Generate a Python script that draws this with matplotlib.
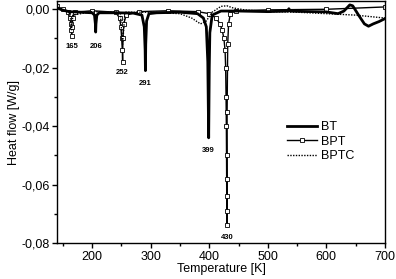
import matplotlib
matplotlib.use("Agg")
import matplotlib.pyplot as plt
from matplotlib.ticker import FuncFormatter, MultipleLocator

plt.rcParams['font.family'] = ['Liberation Sans', 'DejaVu Sans']

# BT (solid thick)
bt_T = [140, 150, 160, 180, 200, 204, 205.5, 206, 206.5, 208, 212, 240, 270, 285, 289, 290.5,
        291, 291.5, 293, 297, 310, 350, 380, 390, 395, 397.5, 399, 400, 401, 405, 420, 450,
        500, 534, 536, 538, 550, 600, 620, 630, 640, 645, 655, 665, 672, 680, 690, 700]
bt_Q = [0.0005, -0.0003, -0.0008, -0.001, -0.0012, -0.002, -0.005, -0.0078, -0.005, -0.002,
        -0.0012, -0.0012, -0.0013, -0.002, -0.006, -0.014, -0.021, -0.012, -0.004, -0.0015,
        -0.0012, -0.001, -0.0015, -0.003, -0.006, -0.018, -0.044, -0.02, -0.008, -0.002,
        -0.0006, -0.0006, -0.0008, -0.0006, 0.0002, -0.0006, -0.0007, -0.0009, -0.0015,
        -0.0006, 0.0015, 0.0012, -0.002, -0.005, -0.0058, -0.005, -0.0042, -0.0032]

# BPT (solid with open squares)
bpt_T = [140, 150, 158, 162, 163.5, 164.5, 165, 165.5, 167, 170, 200, 240, 247, 249, 250.5,
         251.5, 252, 252.5, 254, 258, 280, 330, 380, 400, 412, 418, 422, 425, 427, 428,
         428.7, 429.2, 429.5, 429.7, 429.8, 429.9, 430, 430.5, 431.5, 433, 436, 445, 500,
         600, 700]
bpt_Q = [0.001, 0.0, -0.001, -0.003, -0.005, -0.007, -0.009, -0.006, -0.003, -0.001, -0.0005,
         -0.001, -0.003, -0.006, -0.010, -0.014, -0.018, -0.010, -0.005, -0.002, -0.0008,
         -0.0005, -0.0008, -0.0015, -0.003, -0.005, -0.007, -0.010, -0.014, -0.020, -0.030,
         -0.040, -0.050, -0.058, -0.064, -0.069, -0.074, -0.035, -0.012, -0.005, -0.0015,
         -0.0005, -0.0002, 0.0, 0.0008]

# BPTC (dotted)
bptc_T = [140, 160, 163, 165, 167, 200, 248, 252, 256, 300, 350, 370, 385, 395, 405, 420,
          430, 440, 460, 500, 550, 600, 650, 700]
bptc_Q = [0.0, -0.0005, -0.003, -0.007, -0.002, -0.0008, -0.001, -0.012, -0.001, -0.001,
          -0.0015, -0.003, -0.005, -0.004, -0.001, 0.001, 0.0012, 0.0005, -0.0002, -0.0008,
          -0.001, -0.0015, -0.002, -0.003]

peak_T = [165, 206, 252, 291, 399, 430]
peak_label_Q = [-0.0128, -0.0128, -0.0218, -0.0253, -0.0485, -0.0780]

fig = plt.figure(figsize=(3.96, 2.79), dpi=100)
ax = fig.add_axes([0.144, 0.129, 0.828, 0.866])

ax.plot(bt_T, bt_Q, color='black', lw=2.0, label='BT', zorder=3)
ax.plot(bpt_T, bpt_Q, color='black', lw=1.0, marker='s', ms=2.3, mfc='white', mec='black',
        mew=0.6, label='BPT', zorder=2)
ax.plot(bptc_T, bptc_Q, color='black', lw=1.0, ls=(0, (1, 1)), label='BPTC', zorder=2)

for t, q in zip(peak_T, peak_label_Q):
    ax.text(t, q, str(t), ha='center', va='center', fontsize=5.5, fontweight='bold')

ax.set_xlim(140, 700)
ax.set_ylim(-0.08, 0.0027)
ax.xaxis.set_major_locator(MultipleLocator(100))
ax.xaxis.set_minor_locator(MultipleLocator(50))
ax.yaxis.set_major_locator(MultipleLocator(0.02))
ax.yaxis.set_minor_locator(MultipleLocator(0.01))
ax.yaxis.set_major_formatter(FuncFormatter(lambda v, p: f"{v:.2f}".replace('.', ',').replace('-0,00', '0,00')))
ax.tick_params(which='major', direction='out', length=3.5, width=1, labelsize=9, pad=2)
ax.tick_params(which='minor', direction='out', length=2, width=1)
for s in ax.spines.values():
    s.set_linewidth(1.0)

ax.set_xlabel('Temperature [K]', fontsize=9, labelpad=0)
ax.set_ylabel('Heat flow [W/g]', fontsize=9, labelpad=1)

leg = ax.legend(loc='center left', bbox_to_anchor=(0.675, 0.42), frameon=False, fontsize=9,
                handlelength=2.4, handletextpad=0.35, labelspacing=0.2, borderpad=0.2)

fig.savefig('out.png', dpi=100)
